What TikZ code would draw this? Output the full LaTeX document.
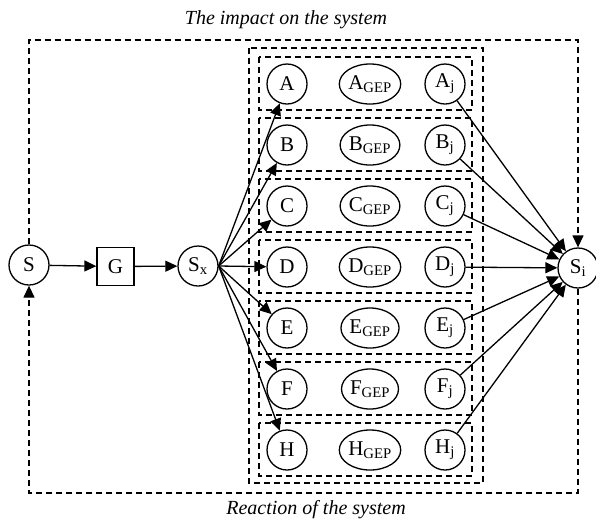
\documentclass[tikz,border=0pt]{standalone}
\usepackage{fontspec}
\setmainfont{Liberation Serif}
\usetikzlibrary{arrows.meta,shapes.geometric}
\begin{document}
\begin{tikzpicture}[x=1pt,y=-1pt,
  font=\fontsize{21}{24}\selectfont,
  circ/.style={draw,circle,minimum size=40pt,inner sep=0pt,line width=1.3pt},
  ell/.style={draw,ellipse,minimum width=57pt,minimum height=40pt,inner sep=0pt,line width=1.3pt},
  sq/.style={draw,rectangle,minimum width=37pt,minimum height=38pt,inner sep=0pt,line width=1.3pt},
  dbox/.style={draw,dash pattern=on 6pt off 4pt,line width=1.3pt},
  arr/.style={-{Triangle[length=12pt,width=11pt]},line width=1.3pt},
  darr/.style={-{Triangle[length=12pt,width=11pt]},dash pattern=on 6pt off 4pt,line width=1.3pt},
  ttl/.style={font=\fontsize{20}{24}\selectfont\itshape}
]
\useasboundingbox (0,0) rectangle (596,520);
\node[ttl] (t1) at (286,20) {The impact on the system};
\node[ttl] (t2) at (316,510) {Reaction of the system};
% boxes
\draw[dbox] (249,48) rectangle (483,483);
\foreach \i in {0,...,6}{
  \pgfmathsetmacro{\yc}{84+61*\i}
  \draw[dbox] (259,\yc-27) rectangle (472,\yc+26);
}
\node[circ] (S) at (29,265) {S};
\node[sq] (G) at (115.5,266.5) {G};
\node[circ] (Sx) at (198,266) {S\textsubscript{x}};
\node[circ] (Si) at (578,268) {S\textsubscript{i}};
\foreach \L [count=\k from 0] in {A,B,C,D,E,F,H}{
  \pgfmathsetmacro{\yc}{84+61*\k}
  \node[circ] (\L) at (287,\yc) {\L};
  \node[ell] (\L gep) at (370,\yc) {\L\textsubscript{GEP}};
  \node[circ] (\L j) at (445,\yc) {\L\textsubscript{j}};
  \draw[arr] (Sx.east) -- (\L);
  \draw[arr] (\L j) -- (Si);
}
\draw[arr] (S) -- (G);
\draw[arr] (G) -- (Sx);
\coordinate (c1) at (29,40);
\coordinate (c2) at (578,40);
\coordinate (c3) at (578,493);
\coordinate (c4) at (29,493);
\draw[darr] (S.north) -- (c1) -- (c2) -- (Si.north);
\draw[darr] (Si.south) -- (c3) -- (c4) -- (S.south);
\end{tikzpicture}
\end{document}
